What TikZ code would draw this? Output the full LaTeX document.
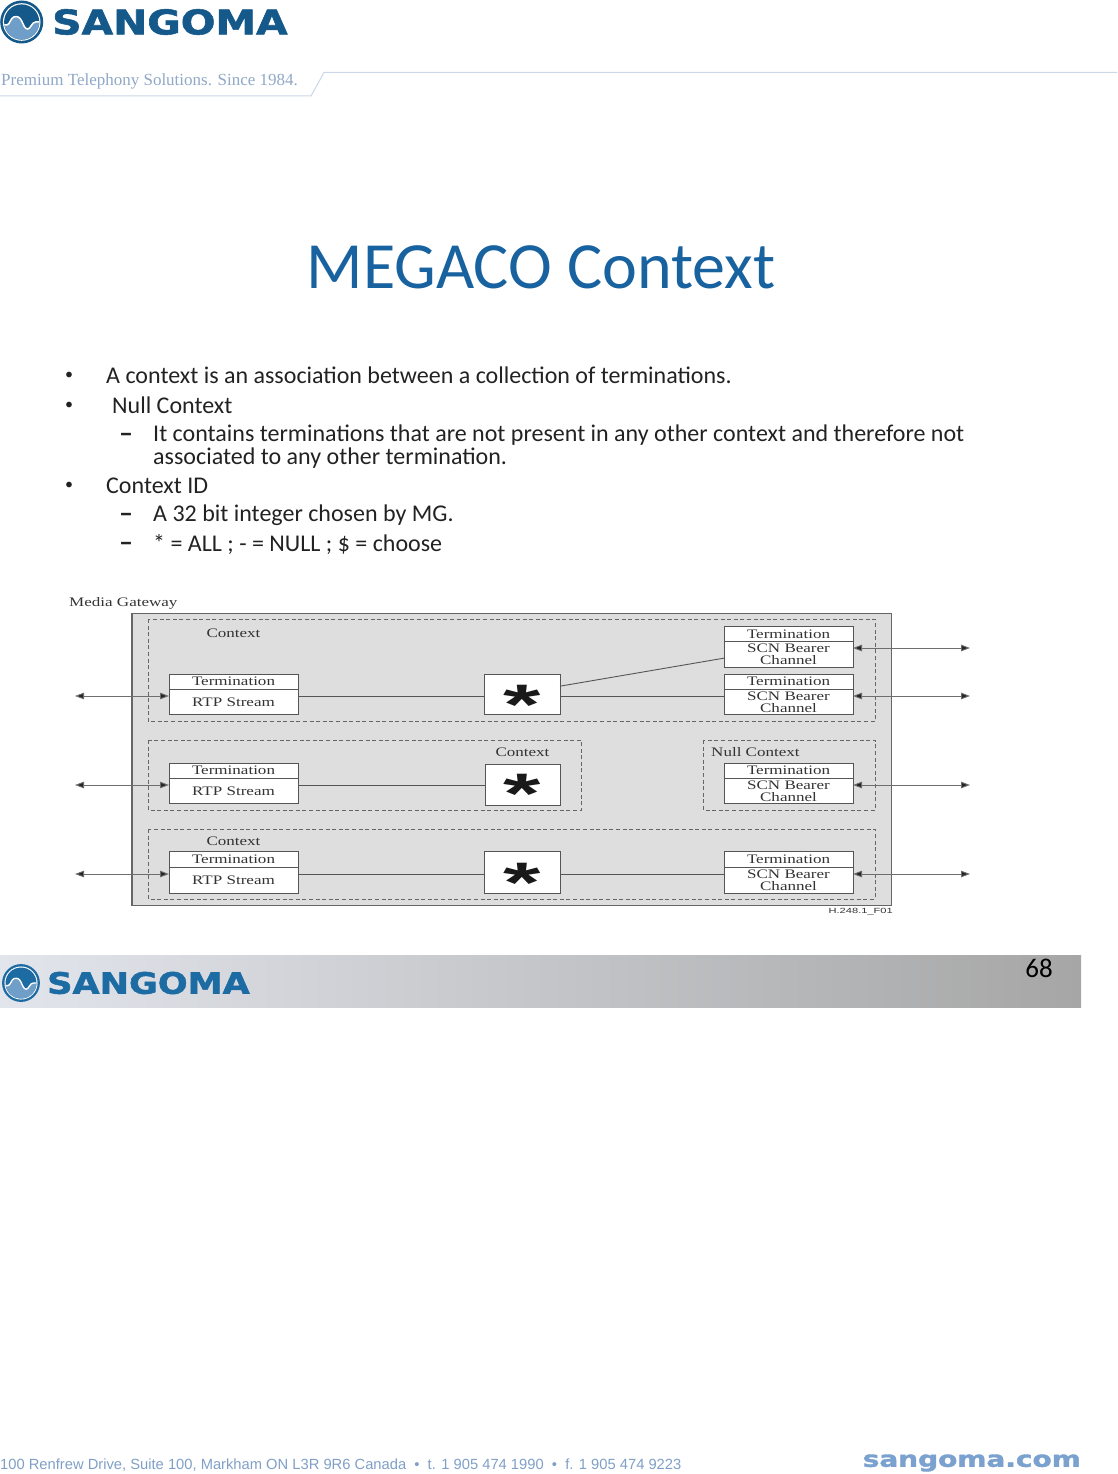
\documentclass[tikz,border=0pt]{standalone}
\usepackage{graphicx}
\usepackage{fontspec}
\setmainfont{Carlito}
\newfontfamily\serifdg{Liberation Serif}
\newfontfamily\sansdg{Liberation Sans}
\newfontfamily\wide[BoldFeatures={FakeBold=1.6}]{DejaVu Sans}
\usetikzlibrary{arrows.meta,calc}
\definecolor{sblue}{HTML}{14598A}
\definecolor{sfoot}{HTML}{1D6BA3}
\definecolor{slight}{HTML}{6F9EC8}
\definecolor{taglinec}{HTML}{8FA8C6}
\definecolor{rulec}{HTML}{C9D7E6}
\definecolor{titlec}{HTML}{17629F}
\definecolor{bodyc}{HTML}{222222}
\definecolor{gatefill}{HTML}{DEDEDE}
\definecolor{dgline}{HTML}{555555}
\definecolor{dgtext}{HTML}{333333}
\definecolor{footc}{HTML}{7F9FC6}
\definecolor{urlc}{HTML}{7BA2CF}
\newcommand{\dgt}[1]{\raisebox{-1pt}{\scalebox{1.31}[1]{#1}}}
\tikzset{
  x=1pt,y=-1pt,
  bodytext/.style={anchor=west,inner sep=0pt,font=\fontsize{24}{24}\selectfont,text=bodyc},
  gate/.style={draw=dgline!90,fill=gatefill,line width=1.5pt},
  ctxbox/.style={draw=dgline!90,line width=1pt,dash pattern=on 4pt off 2.6pt},
  headbox/.style={draw=dgline,fill=white,line width=.9pt,minimum width=129pt,inner sep=0pt,anchor=north west,font=\serifdg\fontsize{13}{12}\selectfont,text=dgtext,align=center},
  starbox/.style={draw=dgline,fill=white,line width=.9pt,inner sep=0pt,anchor=north west},
  starmark/.style={inner sep=0pt,font=\sansdg\bfseries\fontsize{84}{84}\selectfont,text=black!90},
  dgl/.style={inner sep=0pt,font=\serifdg\fontsize{13}{13}\selectfont,text=dgtext},
  link/.style={draw=dgline,line width=.9pt},
  wire/.style={draw=dgline!85,line width=.9pt,{Triangle[length=9pt,width=6.5pt,fill=black!85]}-{Triangle[length=9pt,width=6.5pt,fill=black!85]}},
}
\newcommand{\logomark}[5]{% cx cy scale dark light
  \begin{scope}[shift={(#1,#2)},x=#3pt,y=-#3pt]
    \fill[#4] (0,0) circle (21.5);
    \fill[white] (0,0) circle (18.8);
    \begin{scope}
      \clip (0,0) circle (17.6);
      \fill[#4] (-20,-20) rectangle (20,20);
      \fill[#5] (-20,3) -- (-15,3) .. controls (-12,3) and (-11,-4) .. (-8,-5) .. controls (-4,-6) and (-2,-5) .. (0,-1) .. controls (2,3) and (3,7) .. (6,7) .. controls (9,7) and (10,0) .. (14,0) -- (20,0) -- (20,20) -- (-20,20) -- cycle;
      \draw[white,line width=1.5*#3pt] (-20,3) -- (-15,3) .. controls (-12,3) and (-11,-4) .. (-8,-5) .. controls (-4,-6) and (-2,-5) .. (0,-1) .. controls (2,3) and (3,7) .. (6,7) .. controls (9,7) and (10,0) .. (14,0) -- (20,0);
    \end{scope}
  \end{scope}
}
\begin{document}
\begin{tikzpicture}
\useasboundingbox (0,0) rectangle (1117,1474);
% header
\logomark{21.7}{22}{1}{sblue}{slight}
\node[anchor=west,inner sep=0pt,text=sblue] (brand) at (52,22) {\wide\bfseries\fontsize{34}{34}\selectfont\scalebox{1.2}[1]{SANGOMA}};
\node[anchor=west,inner sep=0pt,text=taglinec] (tag) at (1,81) {\serifdg\fontsize{17}{17}\selectfont Premium Telephony Solutions. Since 1984.};
\draw[rulec,line width=1pt] (0,96) -- (311,96) -- (324,72.5) -- (1117,72.5);
% title
\node[inner sep=0pt,text=titlec] (title) at (541,267) {\fontsize{66}{66}\selectfont MEGACO Context};
% bullets
\foreach \n/\y in {a/375.5,b/405.5,c/486} \node[inner sep=0pt,font=\fontsize{16}{16}\selectfont,text=bodyc] (bul\n) at (69,\y) {•};
\foreach \n/\y in {d/438,e/518,f/547} \node[inner sep=0pt,font=\bfseries\fontsize{28}{28}\selectfont,text=bodyc] (dsh\n) at (126,\y) {–};
\node[bodytext] (l1) at (106,375.5) {A context is an association between a collection of terminations.};
\node[bodytext] (l2) at (112,405.5) {Null Context};
\node[bodytext] (l3) at (153,435) {It contains terminations that are not present in any other context and therefore not};
\node[bodytext] (l4) at (153,458) {associated to any other termination.};
\node[bodytext] (l5) at (106,486) {Context ID};
\node[bodytext] (l6) at (153,515) {A 32 bit integer chosen by MG.};
\node[bodytext] (l7) at (153,544.5) {* = ALL ; - = NULL ; \$ = choose};
% diagram
\node[dgl,anchor=west] (mg) at (69,603) {\dgt{Media Gateway}};
\draw[gate] (132,613.5) rectangle (891.5,905.5);
\coordinate (w1) at (75,696);
\coordinate (w2) at (75,785);
\coordinate (w3) at (75,874);
\coordinate (e0) at (970,648);
\coordinate (e1) at (970,696);
\coordinate (e2) at (970,785);
\coordinate (e3) at (970,874);
\draw[ctxbox] (148,619) rectangle (875,721.5);
\draw[ctxbox] (148,740) rectangle (581.5,810);
\draw[ctxbox] (703,740) rectangle (875,810);
\draw[ctxbox] (148,829) rectangle (875,899);
% RTP terminations
\foreach \n/\y/\d/\e in {1/674/689.5/714.6,2/763/778/803.6,3/851/867/893}{
  \node[headbox,minimum height={\d-\y},outer sep=0pt] (rh\n) at (169,\y) {\dgt{Termination}};
  \node[headbox,minimum height={\e-\d},outer sep=0pt] (rb\n) at (169,\d) {\dgt{RTP Stream}};
}
% SCN terminations
\foreach \n/\y/\d/\e in {0/626/641.7/667,1/674/689.5/714.6,2/763/778/803.6,3/851/867/893}{
  \node[headbox,minimum height={\d-\y},outer sep=0pt] (sh\n) at (724,\y) {\dgt{Termination}};
  \node[headbox,minimum height={\e-\d},outer sep=0pt] (sb\n) at (724,\d) {\dgt{SCN Bearer}\\\dgt{Channel}};
}
% star boxes
\node[starbox,minimum width=75.5pt,minimum height=40.6pt,outer sep=0pt] (st1) at (484.5,674) {};
\node[starbox,minimum width=74.5pt,minimum height=41pt,outer sep=0pt] (st2) at (485.5,764) {};
\node[starbox,minimum width=75.5pt,minimum height=42pt,outer sep=0pt] (st3) at (484.5,851) {};
\foreach \n/\x/\y in {1/522/704.5/,2/522.5/794/,3/522/882.5/}
  \node[starmark] (sm\n) at (\x,\y) {\scalebox{1.14}[0.68]{*}};
% labels
\node[dgl] (c1) at (233.5,633.5) {\dgt{Context}};
\node[dgl] (c2) at (522.5,752) {\dgt{Context}};
\node[dgl,anchor=west] (c0) at (711,752) {\dgt{Null Context}};
\node[dgl] (c3) at (233.5,841) {\dgt{Context}};
\node[inner sep=0pt,anchor=east,font=\sansdg\fontsize{7.5}{8}\selectfont,text=dgtext] (fig) at (893,912) {\scalebox{1.48}[1]{H.248.1\_F01}};
% connectors
\draw[link] (rb1.east |- w1) -- (st1.west |- w1);
\draw[link] (st1.east |- w1) -- (sb1.west |- w1);
\draw[link] (rb2.east |- w2) -- (st2.west |- w2);
\draw[link] (rb3.east |- w3) -- (st3.west |- w3);
\draw[link] (st3.east |- w3) -- (sb3.west |- w3);
\draw[link] ($(st1.north east)!0.3!(st1.south east)$) -- ($(sb0.north west)!0.65!(sb0.south west)$);
\draw[wire] (w1) -- (rb1.west |- w1);
\draw[wire] (w2) -- (rb2.west |- w2);
\draw[wire] (w3) -- (rb3.west |- w3);
\draw[wire] (sb0.east |- e0) -- (e0);
\draw[wire] (sb1.east |- e1) -- (e1);
\draw[wire] (sb2.east |- e2) -- (e2);
\draw[wire] (sb3.east |- e3) -- (e3);
% footer band
\shade[left color={rgb,255:red,226;green,229;blue,236},middle color={rgb,255:red,196;green,199;blue,207},right color={rgb,255:red,166;green,166;blue,166}] (0,955) rectangle (1081,1007.5);
\logomark{21}{983}{0.88}{sfoot}{slight}
\node[anchor=west,inner sep=0pt,text=sfoot] (brand2) at (47,983) {\wide\bfseries\fontsize{29.5}{30}\selectfont\scalebox{1.19}[1]{SANGOMA}};
\node[inner sep=0pt,text=black] (pg) at (1039,968) {\fontsize{27}{27}\selectfont 68};
% address
\node[anchor=west,inner sep=0pt,text=footc] (addr) at (0,1465) {\sansdg\fontsize{14.73}{15}\selectfont 100 Renfrew Drive, Suite 100, Markham ON L3R 9R6 Canada \ • \ t. 1 905 474 1990 \ • \ f. 1 905 474 9223};
\node[anchor=east,inner sep=0pt,text=urlc] (url) at (1081,1463) {\wide\bfseries\fontsize{22}{22}\selectfont\scalebox{1.27}[1]{sangoma.com}};
\end{tikzpicture}
\end{document}
